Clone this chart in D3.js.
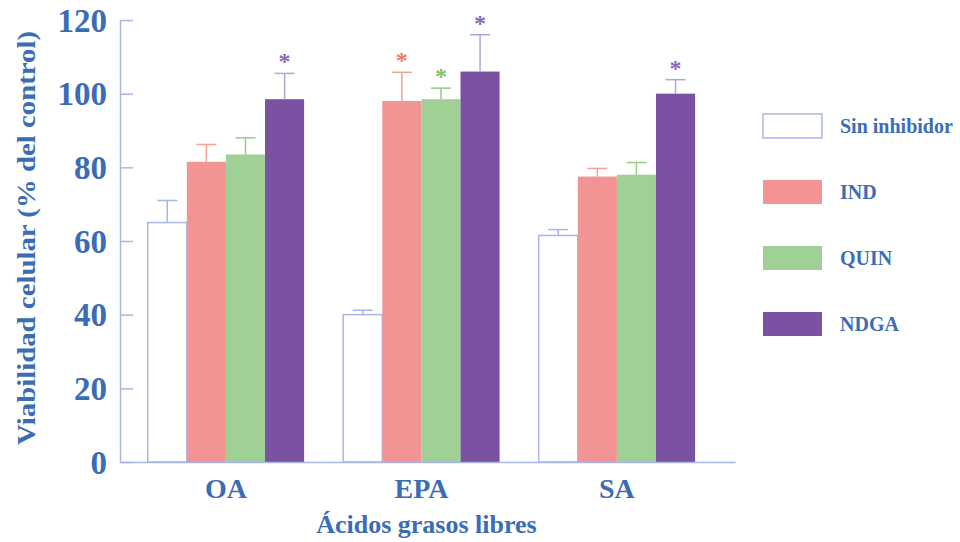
<!DOCTYPE html>
<html>
<head>
<meta charset="utf-8">
<script src="https://cdn.jsdelivr.net/npm/d3@7"></script>
<style>
  html, body { margin: 0; padding: 0; background: #ffffff; }
  svg { display: block; }
</style>
</head>
<body>
<svg id="chart" width="960" height="542"></svg>
<script>
// Free fatty acids on the x axis, one bar per inhibitor treatment
const categories = ["OA", "EPA", "SA"];
const seriesNames = ["Sin inhibidor", "IND", "QUIN", "NDGA"];

// Mean cell viability (% of control) per fatty acid
const sinInhibidor = [65, 40, 61.5];
const ind = [81.5, 98, 77.5];
const quin = [83.5, 98.5, 78];
const ndga = [98.5, 106, 100];

// Standard deviations (upper error bars)
const sdSinInhibidor = [6, 1.2, 1.6];
const sdInd = [4.7, 7.8, 2.2];
const sdQuin = [4.5, 3, 3.3];
const sdNdga = [7, 10, 3.8];

// Significance markers (*)
const sigSinInhibidor = [false, false, false];
const sigInd = [false, true, false];
const sigQuin = [false, true, false];
const sigNdga = [true, true, true];

const yTicks = [0, 20, 40, 60, 80, 100, 120];

const fills = ["#ffffff", "#f29494", "#9fd096", "#7b52a1"];
const errColors = ["#a9b5e6", "#f3a396", "#93cc86", "#b5a3d9"];
const starColors = ["#a9b5e6", "#f07a6a", "#7cc46c", "#8a66b8"];
const axisColor = "#aab6e6";
const textColor = "#3b6cb6";
const serif = "'Liberation Serif', 'Times New Roman', serif";

const series = [
  { name: seriesNames[0], values: sinInhibidor, sd: sdSinInhibidor, sig: sigSinInhibidor },
  { name: seriesNames[1], values: ind, sd: sdInd, sig: sigInd },
  { name: seriesNames[2], values: quin, sd: sdQuin, sig: sigQuin },
  { name: seriesNames[3], values: ndga, sd: sdNdga, sig: sigNdga }
];

const rows = [];
series.forEach((s, si) => {
  categories.forEach((c, ci) => {
    rows.push({ cat: c, name: s.name, si, value: s.values[ci], sd: s.sd[ci], sig: s.sig[ci] });
  });
});

const svg = d3.select("#chart");

const axisLeftX = 120, axisRightX = 735;
const y = d3.scaleLinear().domain([0, 120]).range([462, 20]);

const x = d3.scaleBand()
  .domain(categories)
  .range([axisLeftX, axisRightX])
  .paddingInner(0.2)
  .paddingOuter(0.173)
  .align(0.41);

const xs = d3.scaleBand()
  .domain(seriesNames)
  .range([0, x.bandwidth()])
  .padding(0);

// Bars
const g = svg.append("g");
g.selectAll("rect.bar")
  .data(rows)
  .join("rect")
  .attr("class", "bar")
  .attr("x", d => x(d.cat) + xs(d.name))
  .attr("y", d => y(d.value))
  .attr("width", xs.bandwidth())
  .attr("height", d => y(0) - y(d.value))
  .attr("fill", d => fills[d.si])
  .attr("stroke", d => d.si === 0 ? axisColor : "none")
  .attr("stroke-width", 1.5);

// Error bars
const cap = 10;
const eb = g.selectAll("g.err").data(rows).join("g").attr("class", "err");
eb.append("line")
  .attr("x1", d => x(d.cat) + xs(d.name) + xs.bandwidth() / 2)
  .attr("x2", d => x(d.cat) + xs(d.name) + xs.bandwidth() / 2)
  .attr("y1", d => y(d.value))
  .attr("y2", d => y(d.value + d.sd))
  .attr("stroke", d => errColors[d.si])
  .attr("stroke-width", 1.5);
eb.append("line")
  .attr("x1", d => x(d.cat) + xs(d.name) + xs.bandwidth() / 2 - cap)
  .attr("x2", d => x(d.cat) + xs(d.name) + xs.bandwidth() / 2 + cap)
  .attr("y1", d => y(d.value + d.sd))
  .attr("y2", d => y(d.value + d.sd))
  .attr("stroke", d => errColors[d.si])
  .attr("stroke-width", 1.5);

// Significance asterisks
g.selectAll("text.star")
  .data(rows.filter(d => d.sig))
  .join("text")
  .attr("class", "star")
  .attr("x", d => x(d.cat) + xs(d.name) + xs.bandwidth() / 2)
  .attr("y", d => y(d.value + d.sd) - 4)
  .attr("text-anchor", "middle")
  .attr("font-family", serif)
  .attr("font-weight", "bold")
  .attr("font-size", 24)
  .attr("fill", d => starColors[d.si])
  .text("*");

// Y axis (inward ticks)
const yAxis = svg.append("g")
  .attr("transform", `translate(${axisLeftX},0)`)
  .call(d3.axisLeft(y).tickValues(yTicks).tickSizeInner(-13).tickSizeOuter(0).tickPadding(13));
yAxis.selectAll("path, line").attr("stroke", axisColor).attr("stroke-width", 1.5);
yAxis.selectAll("text")
  .attr("font-family", serif)
  .attr("font-weight", "bold")
  .attr("font-size", 33)
  .attr("fill", textColor)
  .attr("dy", "0.34em");

// X axis
const xAxis = svg.append("g")
  .attr("transform", `translate(0,${y(0)})`)
  .call(d3.axisBottom(x).tickSize(0).tickPadding(16));
xAxis.select("path").attr("stroke", axisColor).attr("stroke-width", 1.5);
xAxis.selectAll("text")
  .attr("font-family", serif)
  .attr("font-weight", "bold")
  .attr("font-size", 28)
  .attr("fill", textColor)
  .attr("dy", "0.71em");

// Axis titles
svg.append("text")
  .attr("x", x(categories[1]) + x.bandwidth() / 2 + 5)
  .attr("y", 533)
  .attr("text-anchor", "middle")
  .attr("font-family", serif)
  .attr("font-weight", "bold")
  .attr("font-size", 26)
  .attr("fill", textColor)
  .text("Ácidos grasos libres");

svg.append("text")
  .attr("transform", "translate(35,238) rotate(-90)")
  .attr("text-anchor", "middle")
  .attr("font-family", serif)
  .attr("font-weight", "bold")
  .attr("font-size", 25)
  .attr("textLength", 414)
  .attr("lengthAdjust", "spacingAndGlyphs")
  .attr("fill", textColor)
  .text("Viabilidad celular (% del control)");

// Legend
const legend = svg.append("g").attr("transform", "translate(763,114)");
const li = legend.selectAll("g").data(seriesNames).join("g")
  .attr("transform", (d, i) => `translate(0,${i * 66})`);
li.append("rect")
  .attr("width", 59)
  .attr("height", 24)
  .attr("fill", (d, i) => fills[i])
  .attr("stroke", (d, i) => i === 0 ? axisColor : "none")
  .attr("stroke-width", 1.5);
li.append("text")
  .attr("x", 77)
  .attr("y", 19)
  .attr("font-family", serif)
  .attr("font-weight", "bold")
  .attr("font-size", 20)
  .attr("fill", textColor)
  .text(d => d);
</script>
</body>
</html>
